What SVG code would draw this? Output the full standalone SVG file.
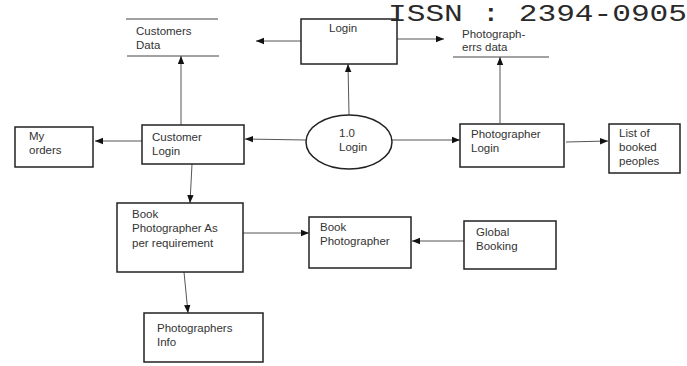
<svg xmlns="http://www.w3.org/2000/svg" width="687" height="366" viewBox="0 0 687 366">
<defs>
<marker id="ah" viewBox="0 0 10 10" refX="10" refY="5" markerWidth="8" markerHeight="8" markerUnits="userSpaceOnUse" orient="auto">
<path d="M0,1 L10,5 L0,9 z" fill="#111"/>
</marker>
<style>
.box{fill:#fff;stroke:#222;stroke-width:1.5}
.ds{stroke:#444;stroke-width:1;fill:none}
.t{font-family:"Liberation Sans","Open Sans",sans-serif;font-size:11.5px;fill:#333}
.c{stroke:#555;stroke-width:1;fill:none;marker-end:url(#ah)}
.issn{font-family:"Liberation Mono","DejaVu Sans Mono",monospace;font-size:24px;fill:#2a2a2a}
</style>
</defs>
<rect width="687" height="366" fill="#fff"/>
<g id="connectors">
<line class="c" x1="301" y1="41" x2="256" y2="41"/>
<line class="c" x1="397" y1="39" x2="444" y2="39"/>
<line class="c" x1="349" y1="115" x2="348" y2="64"/>
<line class="c" x1="500" y1="123" x2="500" y2="57"/>
<line class="c" x1="181" y1="125" x2="181" y2="56"/>
<line class="c" x1="306" y1="140" x2="245" y2="139"/>
<line class="c" x1="392" y1="140" x2="460" y2="140"/>
<line class="c" x1="142" y1="141" x2="95" y2="141"/>
<line class="c" x1="566" y1="142" x2="608" y2="141"/>
<line class="c" x1="192" y1="164" x2="190" y2="203"/>
<line class="c" x1="238" y1="233" x2="309" y2="233"/>
<line class="c" x1="464" y1="241" x2="412" y2="241"/>
<line class="c" x1="184" y1="272" x2="188" y2="313"/>
</g>
<g id="customers-data">
<line class="ds" x1="126" y1="19" x2="218" y2="19"/>
<line class="ds" x1="127" y1="56" x2="219" y2="56"/>
<text class="t" x="136" y="35">Customers</text>
<text class="t" x="136" y="49">Data</text>
</g>
<g id="login">
<rect class="box" x="301" y="19" width="96" height="45"/>
<text class="t" x="329" y="32">Login</text>
</g>
<g id="photographers-data">
<line class="ds" x1="453" y1="57" x2="549" y2="57"/>
<text class="t" x="462" y="38">Photograph-</text>
<text class="t" x="462" y="51">errs data</text>
</g>
<g id="login-process">
<ellipse cx="349" cy="142" rx="43" ry="27" fill="#fff" stroke="#222" stroke-width="1.5"/>
<text class="t" x="339" y="137">1.0</text>
<text class="t" x="339" y="151">Login</text>
</g>
<g id="my-orders">
<rect class="box" x="15" y="127" width="78" height="40"/>
<text class="t" x="29" y="140">My</text>
<text class="t" x="29" y="154">orders</text>
</g>
<g id="customer-login">
<rect class="box" x="142" y="125" width="102" height="39"/>
<text class="t" x="152" y="141">Customer</text>
<text class="t" x="152" y="155">Login</text>
</g>
<g id="photographer-login">
<rect class="box" x="460" y="124" width="104" height="43"/>
<text class="t" x="471" y="138">Photographer</text>
<text class="t" x="471" y="152">Login</text>
</g>
<g id="booked-peoples">
<rect class="box" x="609" y="124" width="71" height="49"/>
<text class="t" x="619" y="137">List of</text>
<text class="t" x="619" y="151">booked</text>
<text class="t" x="619" y="165">peoples</text>
</g>
<g id="book-as-per-requirement">
<rect class="box" x="117" y="203" width="126" height="69"/>
<text class="t" x="132" y="218">Book</text>
<text class="t" x="132" y="232">Photographer As</text>
<text class="t" x="132" y="247">per requirement</text>
</g>
<g id="book-photographer">
<rect class="box" x="309" y="217" width="102" height="51"/>
<text class="t" x="320" y="231">Book</text>
<text class="t" x="320" y="245">Photographer</text>
</g>
<g id="global-booking">
<rect class="box" x="464" y="221" width="92" height="48"/>
<text class="t" x="476" y="236">Global</text>
<text class="t" x="476" y="250">Booking</text>
</g>
<g id="photographers-info">
<rect class="box" x="144" y="313" width="119" height="49"/>
<text class="t" x="157" y="332">Photographers</text>
<text class="t" x="157" y="346">Info</text>
</g>
<text class="issn" x="388" y="20.5" textLength="299" lengthAdjust="spacingAndGlyphs">ISSN : 2394-0905</text>
</svg>
